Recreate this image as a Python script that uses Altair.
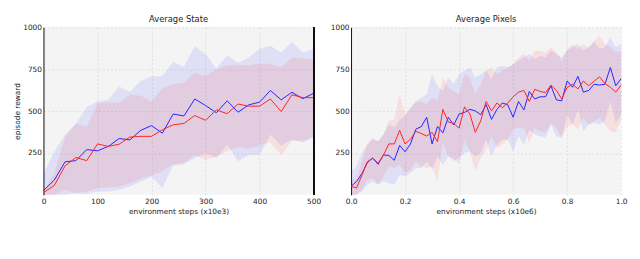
import altair as alt
import pandas as pd

SRL = "TD-MPC with SRL (ours)"
TD = "TD MPC"
SERIES = [SRL, TD]
COLORS = ["#2424ff", "#ff2424"]
FONT = "DejaVu Sans"

# ---- Average State (x10e3 steps) ----
state_steps = [0, 20, 40, 60, 80, 100, 120, 140, 160, 180, 200, 220, 240, 260,
               280, 300, 320, 340, 360, 380, 400, 420, 440, 460, 480, 500]
state_srl_mean = [26, 88, 197, 204, 270, 263, 289, 336, 328, 385, 413, 368, 482, 471,
                  572, 533, 490, 561, 493, 537, 553, 623, 567, 612, 574, 606]
state_srl_hi = [126, 257, 360, 426, 523, 557, 567, 647, 613, 679, 707, 707, 792, 764,
                886, 839, 754, 833, 786, 820, 870, 889, 848, 914, 848, 870]
state_srl_lo = [0, 0, 0, 10, 5, 20, 20, 30, 50, 80, 110, 41, 173, 182,
                220, 248, 220, 300, 200, 238, 238, 360, 295, 332, 313, 341]
state_td_mean = [13, 56, 173, 223, 204, 304, 289, 302, 345, 349, 349, 388, 418, 426,
                 473, 445, 507, 484, 542, 529, 529, 572, 497, 597, 580, 580]
state_td_hi = [20, 130, 341, 426, 407, 544, 552, 548, 598, 591, 557, 636, 660, 670,
               730, 707, 750, 773, 777, 773, 782, 782, 760, 820, 814, 807]
state_td_lo = [0, 0, 30, 10, 20, 41, 45, 50, 69, 98, 116, 144, 182, 191,
               238, 210, 229, 260, 285, 276, 295, 313, 238, 323, 323, 351]

# ---- Average Pixels (x10e6 steps) ----
pixel_steps = [round(i * 0.02, 2) for i in range(51)]
pixel_srl_mean = [51, 79, 126, 191, 220, 182, 238, 235, 206, 295,
                  257, 304, 392, 407, 463, 304, 407, 370, 463, 417,
                  482, 492, 510, 501, 478, 538, 450, 510, 548, 538,
                  463, 557, 507, 617, 572, 585, 585, 651, 567, 561,
                  679, 642, 707, 613, 623, 660, 655, 660, 760, 651, 694]
pixel_srl_hi = [140, 170, 250, 300, 330, 320, 360, 420, 400, 450,
                470, 520, 560, 580, 600, 720, 650, 620, 700, 660,
                720, 740, 760, 700, 720, 740, 690, 760, 770, 760,
                780, 800, 820, 840, 810, 830, 820, 860, 840, 820,
                860, 880, 900, 860, 880, 910, 870, 880, 940, 880, 900]
pixel_srl_lo = [0, 0, 20, 60, 80, 60, 80, 70, 60, 120,
                110, 130, 160, 160, 200, 150, 230, 180, 230, 200,
                220, 250, 260, 230, 250, 330, 230, 300, 330, 330,
                260, 350, 300, 390, 360, 350, 340, 420, 350, 340,
                480, 420, 510, 380, 420, 430, 420, 440, 560, 430, 480]
pixel_td_mean = [51, 41, 116, 197, 220, 188, 238, 304, 304, 385,
                 304, 332, 379, 366, 351, 373, 317, 510, 435, 426,
                 398, 525, 482, 373, 441, 557, 501, 548, 520, 548,
                 585, 613, 623, 557, 630, 617, 610, 655, 623, 572,
                 642, 660, 632, 679, 651, 679, 704, 664, 642, 613, 655]
pixel_td_hi = [100, 90, 200, 300, 340, 320, 360, 440, 450, 600,
               480, 520, 550, 560, 540, 580, 560, 700, 640, 620,
               600, 720, 700, 600, 660, 740, 760, 720, 740, 760,
               780, 820, 840, 800, 860, 860, 850, 880, 850, 800,
               870, 900, 870, 900, 880, 920, 950, 900, 880, 850, 860]
pixel_td_lo = [0, 0, 30, 90, 100, 60, 110, 170, 160, 180,
               130, 150, 200, 170, 160, 170, 80, 320, 230, 220,
               180, 330, 260, 140, 220, 270, 350, 280, 300, 330,
               390, 400, 400, 310, 400, 380, 370, 430, 400, 340,
               410, 420, 390, 460, 420, 440, 460, 420, 380, 370, 450]

y_ticks = [250, 500, 750, 1000]
state_ticks = [0, 100, 200, 300, 400, 500]
pixel_ticks = [0.0, 0.2, 0.4, 0.6, 0.8, 1.0]


def long_df(steps, srl, td):
    rows = []
    for name, (m, lo, hi) in ((SRL, srl), (TD, td)):
        for s, a, b, c in zip(steps, m, lo, hi):
            rows.append({"step": s, "series": name, "band": name, "mean": a, "lo": b, "hi": c})
    return pd.DataFrame(rows)


state_df = long_df(state_steps, (state_srl_mean, state_srl_lo, state_srl_hi),
                   (state_td_mean, state_td_lo, state_td_hi))
pixel_df = long_df(pixel_steps, (pixel_srl_mean, pixel_srl_lo, pixel_srl_hi),
                   (pixel_td_mean, pixel_td_lo, pixel_td_hi))

GRID = dict(grid=True, gridColor="#d2d2d2", gridDash=[2, 2], gridWidth=0.6)
LBL = dict(labelFont=FONT, labelFontSize=7.5, labelColor="#222",
           titleFont=FONT, titleFontSize=7.5, titleColor="#222",
           titleFontWeight="normal", ticks=False, labelFlush=False)

legend = alt.Legend(title=None, orient="bottom", direction="horizontal",
                    symbolType="stroke", strokeColor="#dddddd", fillColor="white",
                    padding=4, labelFont=FONT, labelFontSize=7.5, labelColor="#222",
                    offset=4)


def panel(df, title, x_title, x_domain, x_values, x_format, y_title, border, show_legend):
    x = alt.X("step:Q", scale=alt.Scale(domain=x_domain, nice=False, zero=False),
              axis=alt.Axis(values=x_values, format=x_format, title=x_title,
                            domain=False, labelPadding=3, titlePadding=2, **GRID, **LBL))
    yscale = alt.Scale(domain=[0, 1000], nice=False)
    yaxis = alt.Axis(values=y_ticks, format="d", title=y_title, domain=True, domainColor="#111",
                     domainWidth=1, labelPadding=2, titlePadding=1, **GRID, **LBL)
    base = alt.Chart(df)
    line = base.mark_line(strokeWidth=1.0).encode(
        x=x,
        y=alt.Y("mean:Q", scale=yscale, axis=yaxis),
        stroke=alt.Stroke("series:N", scale=alt.Scale(domain=SERIES, range=COLORS),
                          legend=legend if show_legend else None),
    )
    band = base.mark_area(opacity=0.1).encode(
        x=x,
        y=alt.Y("lo:Q", scale=yscale),
        y2="hi:Q",
        fill=alt.Fill("band:N", scale=alt.Scale(domain=SERIES, range=COLORS), legend=None),
    )
    layers = [band, line]
    if border is not None:
        rule = base.mark_rule(color="#111", strokeWidth=1).encode(
            x=alt.datum(border))
        layers.append(rule)
    return alt.layer(*layers).properties(
        width=274, height=170,
        title=alt.TitleParams(title, font=FONT, fontSize=8.5, fontWeight="normal",
                              color="#222", offset=0),
    )


left = panel(state_df, "Average State", "environment steps (x10e3)", [0, 500],
             state_ticks, "d", "episode reward", 500, True)
right = panel(pixel_df, "Average Pixels", "environment steps (x10e6)", [0, 1.0],
              pixel_ticks, ".1f", None, None, True)

chart = alt.hconcat(left, right, spacing=8).configure_view(fill="#f4f4f4", stroke=None)

chart.save("out.html", embed_options={"renderer": "svg", "actions": False})
